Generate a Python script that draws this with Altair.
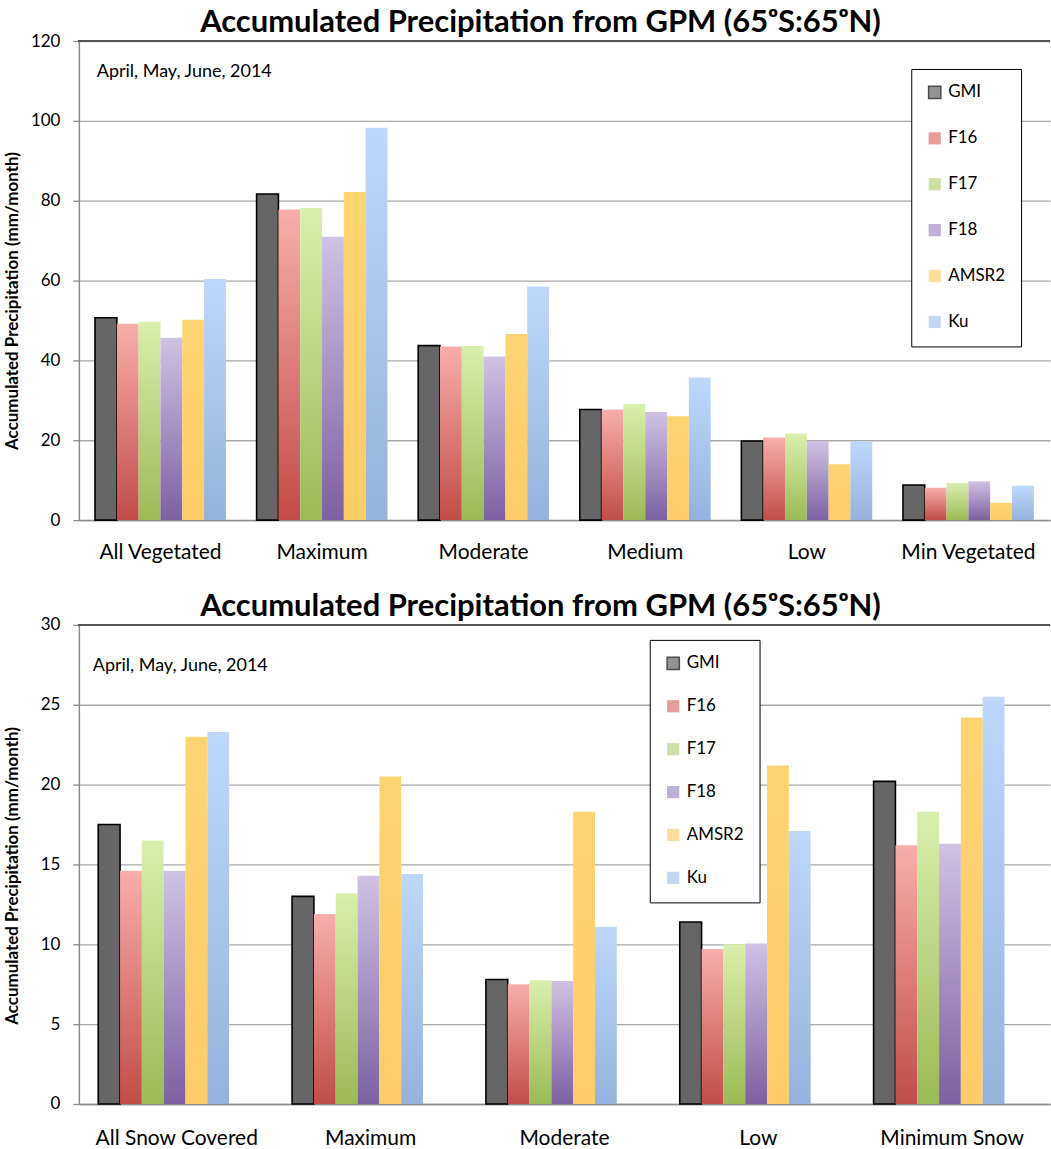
import altair as alt
import pandas as pd

series = ["GMI", "F16", "F17", "F18", "AMSR2", "Ku"]

veg_categories = ["All Vegetated", "Maximum", "Moderate", "Medium", "Low", "Min Vegetated"]
veg_gmi = [50.7, 81.7, 43.7, 27.7, 19.8, 8.8]
veg_f16 = [49.2, 77.8, 43.5, 27.7, 20.7, 8.1]
veg_f17 = [49.7, 78.2, 43.6, 29.1, 21.7, 9.3]
veg_f18 = [45.7, 71.0, 41.0, 27.1, 19.8, 9.7]
veg_amsr2 = [50.2, 82.2, 46.6, 26.0, 14.0, 4.3]
veg_ku = [60.4, 98.3, 58.5, 35.7, 19.8, 8.6]

snow_categories = ["All Snow Covered", "Maximum", "Moderate", "Low", "Minimum Snow"]
snow_gmi = [17.5, 13.0, 7.8, 11.4, 20.2]
snow_f16 = [14.6, 11.9, 7.5, 9.7, 16.2]
snow_f17 = [16.5, 13.2, 7.75, 10.0, 18.3]
snow_f18 = [14.6, 14.3, 7.7, 10.05, 16.3]
snow_amsr2 = [23.0, 20.5, 18.3, 21.2, 24.2]
snow_ku = [23.3, 14.4, 11.1, 17.1, 25.5]

title_text = "Accumulated Precipitation from GPM (65ᵒS:65ᵒN)"
note_text = "April, May, June, 2014"
y_title = "Accumulated Precipitation (mm/month)"

FONT = "Lato"

def grad(top, bottom):
    return {"gradient": "linear", "x1": 0, "x2": 0, "y1": 0, "y2": 1,
            "stops": [{"offset": 0, "color": top}, {"offset": 1, "color": bottom}]}

fills = {
    "GMI": "#666666",
    "F16": grad("#f8aeab", "#c24c48"),
    "F17": grad("#d9efad", "#9abb55"),
    "F18": grad("#cfc2e4", "#7d60a1"),
    "AMSR2": grad("#fed472", "#fdcc66"),
    "Ku": grad("#bed8fb", "#94b2dc"),
}
legend_colors = ["#666666", "#dc7672", "#b7d47f", "#a48dc4", "#fdd06e", "#aac6ee"]
legend_strokes = ["#000000", "transparent", "transparent", "transparent", "transparent", "transparent"]


def make_df(categories, cols):
    rows = []
    for s, vals in zip(series, cols):
        for c, v in zip(categories, vals):
            rows.append({"category": c, "series": s, "value": v})
    return pd.DataFrame(rows)


def legend_def(legend_x, legend_y, row_pad):
    return alt.Legend(title=None, orient="none", legendX=legend_x, legendY=legend_y,
                      padding=15, rowPadding=row_pad, strokeColor="#000",
                      fillColor="#ffffff", symbolType="square", symbolSize=150,
                      symbolStrokeWidth=1.5, labelFont=FONT, labelFontSize=17,
                      labelColor="#000", labelOffset=5)


def panel(categories, cols, ymax, ystep, legend_x, legend_y, row_pad, note_x, note_y, title_y, label_pad):
    df = make_df(categories, cols)
    x_enc = alt.X("category:N", sort=categories, title=None,
                  scale=alt.Scale(paddingInner=0.19, paddingOuter=0.1),
                  axis=alt.Axis(labelAngle=0, ticks=False, labelPadding=label_pad,
                                domainColor="#8c8c8c", domainWidth=1.5,
                                labelFont=FONT, labelFontSize=21, labelColor="#000"))
    xo_enc = alt.XOffset("series:N", sort=series,
                         scale=alt.Scale(domain=series, paddingInner=0, paddingOuter=0))
    y_enc = alt.Y("value:Q", title=y_title,
                  scale=alt.Scale(domain=[0, ymax], nice=False),
                  axis=alt.Axis(values=list(range(0, ymax + 1, ystep)), grid=True,
                                gridColor="#a8a8a8", gridWidth=1.3,
                                domainColor="#8c8c8c", domainWidth=1.5,
                                tickColor="#8c8c8c", tickSize=6, tickWidth=1.3,
                                labelFont=FONT, labelFontSize=17, labelColor="#000",
                                labelPadding=13,
                                titleFont=FONT, titleFontSize=17, titleFontWeight="bold",
                                titleColor="#000", titleX=-57, titleY=title_y))
    layers = []
    for s in series:
        kw = {"fill": fills[s]}
        if s == "GMI":
            kw.update(stroke="#000000", strokeWidth=1.6)
        layers.append(
            alt.Chart(df).mark_bar(**kw)
            .transform_filter(alt.datum.series == s)
            .encode(x=x_enc, xOffset=xo_enc, y=y_enc)
        )
    top_rule = alt.Chart(df).mark_rule(color="#555555", strokeWidth=1.5).encode(y=alt.datum(ymax))
    legend_layer = (
        alt.Chart(df).mark_square()
        .transform_filter("false")
        .encode(
            fill=alt.Fill("series:N", sort=series,
                          scale=alt.Scale(domain=series, range=legend_colors),
                          legend=legend_def(legend_x, legend_y, row_pad)),
            stroke=alt.Stroke("series:N", sort=series,
                              scale=alt.Scale(domain=series, range=legend_strokes),
                              legend=legend_def(legend_x, legend_y, row_pad)),
        )
    )
    note = alt.Chart(alt.Data(values=[{"t": note_text}])).mark_text(
        align="left", baseline="middle", font=FONT, fontSize=18, color="#000"
    ).encode(x=alt.value(note_x), y=alt.value(note_y), text="t:N")
    return alt.layer(*layers, top_rule, legend_layer, note).properties(
        width=973, height=480,
        title=alt.TitleParams(title_text, font=FONT, fontSize=31, fontWeight="bold",
                              color="#000", anchor="middle", dx=-24, offset=-7),
    ).resolve_scale(fill="independent", stroke="independent")


top = panel(veg_categories, [veg_gmi, veg_f16, veg_f17, veg_f18, veg_amsr2, veg_ku],
            120, 20, 834, 28, 27, 18, 31, 260, 21)
bottom = panel(snow_categories, [snow_gmi, snow_f16, snow_f17, snow_f18, snow_amsr2, snow_ku],
               30, 5, 572, 15, 24, 14, 41, 251, 24)

chart = alt.vconcat(top, bottom, spacing=29).configure_view(strokeWidth=0).properties(
    padding={"left": 4, "top": 6, "right": 0, "bottom": 0}
)

chart.save("out.html", embed_options={"renderer": "svg", "actions": False})
